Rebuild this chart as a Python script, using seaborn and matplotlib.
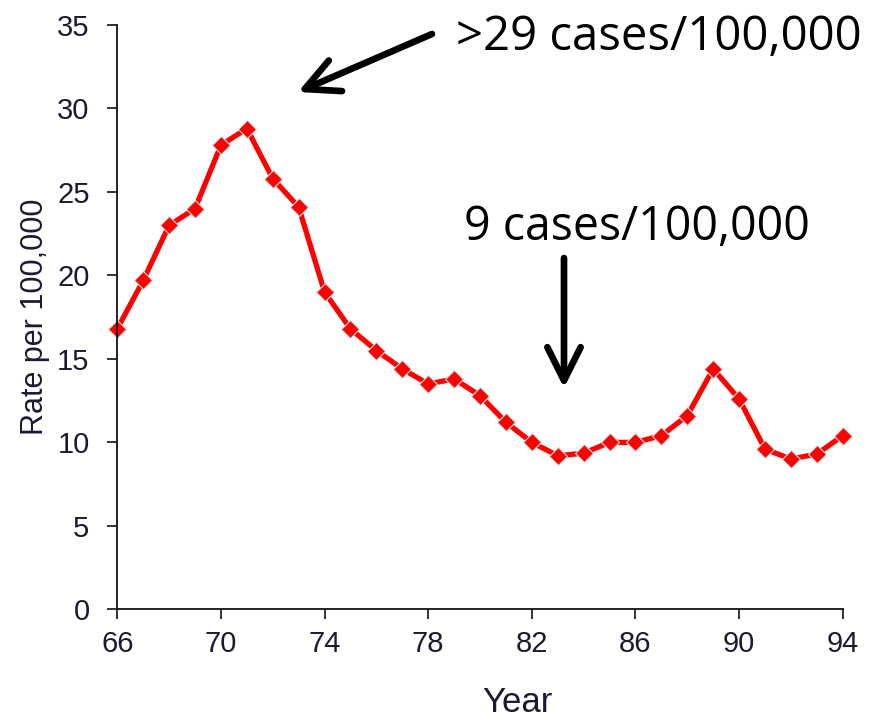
import pandas as pd
import seaborn as sns
import matplotlib.pyplot as plt

# incidence rate per 100,000, 1966-1994
years = list(range(66, 95))
rates = [16.8, 19.7, 23.0, 24.0, 27.8, 28.8, 25.8, 24.1, 19.0, 16.8,
         15.5, 14.4, 13.5, 13.8, 12.8, 11.2, 10.0, 9.2, 9.35, 10.0,
         10.0, 10.4, 11.6, 14.4, 12.6, 9.6, 9.0, 9.3, 10.4]
x_ticks = [66, 70, 74, 78, 82, 86, 90, 94]
y_ticks = [0, 5, 10, 15, 20, 25, 30, 35]

df = pd.DataFrame({'year': years, 'rate': rates})

sns.set_style('ticks')
plt.rcParams['font.family'] = ['Liberation Sans', 'DejaVu Sans']

W, H = 878, 723
fig = plt.figure(figsize=(W / 100, H / 100), dpi=100)
ax = fig.add_axes([117.3 / W, 1 - 609.3 / H, 725.4 / W, 584.3 / H])

sns.lineplot(data=df, x='year', y='rate', ax=ax, color='#ff0000', linewidth=3.8,
             marker='D', markersize=9, markeredgecolor='#cfe3e3',
             markeredgewidth=0.8, clip_on=False)

ax.set_xlim(66, 94)
ax.set_ylim(0, 35)
ax.set_xticks(x_ticks)
ax.set_yticks(y_ticks)
ax.tick_params(axis='both', direction='out', length=7, width=1.2,
               labelsize=21, labelcolor='#1a1a30', color='#111111')
ax.tick_params(axis='y', pad=13)
ax.tick_params(axis='x', pad=8)
for s in ['left', 'bottom']:
    ax.spines[s].set_linewidth(1.3)
    ax.spines[s].set_color('#111111')
sns.despine(ax=ax)

ax.set_ylabel('Rate per 100,000', fontsize=22, color='#1a1a30')
ax.yaxis.set_label_coords((50 - 117.3) / 725.4, 0.5)
ax.set_xlabel('Year', fontsize=25, color='#1a1a30', va='top')
ax.xaxis.set_label_coords((517 - 117.3) / 725.4, (609.3 - 686) / 584.3)

# annotations
arrow_kw = dict(arrowstyle='->,head_length=1.2,head_width=0.6', color='black',
                lw=4.8, mutation_scale=20, capstyle='round', joinstyle='round',
                shrinkA=0, shrinkB=0)
ax.annotate('', xy=(298 / W, 1 - 92 / H), xytext=(432 / W, 1 - 34 / H),
            xycoords='figure fraction', textcoords='figure fraction',
            arrowprops=arrow_kw)
ax.annotate('', xy=(564 / W, 1 - 388 / H), xytext=(564 / W, 1 - 258 / H),
            xycoords='figure fraction', textcoords='figure fraction',
            arrowprops=arrow_kw)
fig.text(456 / W, 1 - 50 / H, '>29 cases/100,000', fontsize=34,
         family='Open Sans', va='baseline', ha='left', color='black')
fig.text(464 / W, 1 - 240 / H, '9 cases/100,000', fontsize=33.5,
         family='Open Sans', va='baseline', ha='left', color='black')

fig.savefig('out.png', dpi=100)
